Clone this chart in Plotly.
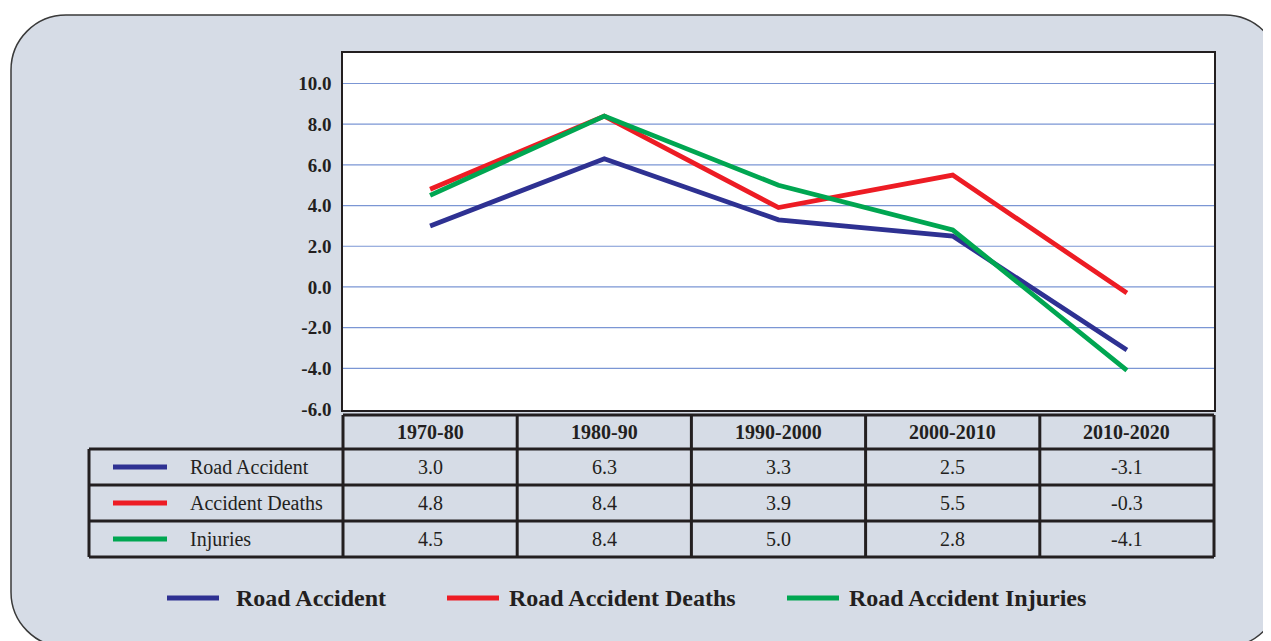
import plotly.graph_objects as go

# data
periods = ["1970-80", "1980-90", "1990-2000", "2000-2010", "2010-2020"]
road_accident = [3.0, 6.3, 3.3, 2.5, -3.1]
accident_deaths = [4.8, 8.4, 3.9, 5.5, -0.3]
injuries = [4.5, 8.4, 5.0, 2.8, -4.1]
table_names = ["Road Accident", "Accident Deaths", "Injuries"]
legend_names = ["Road Accident", "Road Accident Deaths", "Road Accident Injuries"]
y_ticks = [10, 8, 6, 4, 2, 0, -2, -4, -6]
grid_vals = [10, 8, 6, 4, 2, 0, -2, -4]

colors = ["#2e3192", "#ed1c24", "#00a651"]
series = [road_accident, accident_deaths, injuries]
text_color = "#231f20"
serif = "Liberation Serif"

# page body has an 8px margin, so the figure is shifted by that much
OFF = 8
W, H = 1271, 641
PW, PH = 871, 357
L, T = 343 - OFF, 53 - OFF
R, B = W - L - PW, H - T - PH


def px(x):
    return (x - 343) / PW


def py(y):
    return (410 - y) / PH


fig = go.Figure()
xs = list(range(len(periods)))
for vals, name, c in zip(series, table_names, colors):
    fig.add_trace(go.Scatter(x=xs, y=vals, mode="lines", name=name,
                             line=dict(color=c, width=4.8), showlegend=False))

shapes = []

# rounded background panel
l, t, r, b, rad = 11, 15, 1280, 647, 55
k = rad * 0.5523
path = (f"M {px(l + rad)},{py(t)} L {px(r - rad)},{py(t)} "
        f"C {px(r - rad + k)},{py(t)} {px(r)},{py(t + rad - k)} {px(r)},{py(t + rad)} "
        f"L {px(r)},{py(b - rad)} "
        f"C {px(r)},{py(b - rad + k)} {px(r - rad + k)},{py(b)} {px(r - rad)},{py(b)} "
        f"L {px(l + rad)},{py(b)} "
        f"C {px(l + rad - k)},{py(b)} {px(l)},{py(b - rad + k)} {px(l)},{py(b - rad)} "
        f"L {px(l)},{py(t + rad)} "
        f"C {px(l)},{py(t + rad - k)} {px(l + rad - k)},{py(t)} {px(l + rad)},{py(t)} Z")
shapes.append(dict(type="path", path=path, xref="paper", yref="paper",
                   fillcolor="#d6dce6", line=dict(color="#3a3a3a", width=1.5), layer="below"))
shapes.append(dict(type="rect", xref="paper", yref="paper", x0=0, x1=1, y0=0, y1=1,
                   fillcolor="white", line=dict(width=0), layer="below"))
for g in grid_vals:
    shapes.append(dict(type="line", xref="paper", yref="y", x0=0, x1=1, y0=g, y1=g,
                       line=dict(color="#7b96d4", width=1.2), layer="below"))

# table grid
tb = dict(color=text_color, width=3)
header_top, row_lines = 415, [449, 485, 521, 557]
first_col = px(89)
shapes.append(dict(type="line", xref="paper", yref="paper", x0=0, x1=1,
                   y0=py(header_top), y1=py(header_top), line=tb))
for yl in row_lines:
    shapes.append(dict(type="line", xref="paper", yref="paper", x0=first_col, x1=1,
                       y0=py(yl), y1=py(yl), line=tb))
shapes.append(dict(type="line", xref="paper", yref="paper", x0=first_col, x1=first_col,
                   y0=py(row_lines[0]), y1=py(row_lines[-1]), line=tb))
for i in range(len(periods) + 1):
    xc = i / len(periods)
    shapes.append(dict(type="line", xref="paper", yref="paper", x0=xc, x1=xc,
                       y0=py(header_top), y1=py(row_lines[-1]), line=tb))

annotations = []
hy = (header_top + row_lines[0]) / 2
for i, p in enumerate(periods):
    annotations.append(dict(x=i, y=py(hy), xref="x", yref="paper", text=f"<b>{p}</b>",
                            xanchor="center", yanchor="middle", showarrow=False,
                            font=dict(family=serif, size=20, color=text_color)))
for j, (name, vals, c) in enumerate(zip(table_names, series, colors)):
    yc = py((row_lines[j] + row_lines[j + 1]) / 2)
    shapes.append(dict(type="line", xref="paper", yref="paper", x0=px(113), x1=px(167),
                       y0=yc, y1=yc, line=dict(color=c, width=5)))
    annotations.append(dict(x=px(188), y=yc, xref="paper", yref="paper", text=name,
                            xanchor="left", yanchor="middle", showarrow=False,
                            font=dict(family=serif, size=20, color=text_color)))
    for i, v in enumerate(vals):
        annotations.append(dict(x=i, y=yc, xref="x", yref="paper", text=f"{v:.1f}",
                                xanchor="center", yanchor="middle", showarrow=False,
                                font=dict(family=serif, size=20, color=text_color)))

# bottom legend
leg_y = py(598)
leg_line_x = [167, 447, 787]
leg_text_x = [234, 507, 847]
for name, c, lx, tx in zip(legend_names, colors, leg_line_x, leg_text_x):
    shapes.append(dict(type="line", xref="paper", yref="paper", x0=px(lx), x1=px(lx + 52),
                       y0=leg_y, y1=leg_y, line=dict(color=c, width=5)))
    annotations.append(dict(x=px(tx), y=leg_y, xref="paper", yref="paper", text=f"<b>{name}</b>",
                            xanchor="left", yanchor="middle", showarrow=False,
                            font=dict(family=serif, size=24, color=text_color)))

fig.update_layout(
    width=W, height=H,
    margin=dict(l=L, r=R, t=T, b=B),
    paper_bgcolor="white", plot_bgcolor="white",
    shapes=shapes, annotations=annotations,
    xaxis=dict(range=[-0.5, 4.5], showticklabels=False, showgrid=False, zeroline=False,
               showline=True, mirror=True, linecolor=text_color, linewidth=1.5),
    yaxis=dict(range=[-6.05, 11.5], tickvals=y_ticks, ticktext=[f"{v:.1f}" for v in y_ticks],
               showgrid=False, zeroline=False, showline=True, mirror=True,
               linecolor=text_color, linewidth=1.5, ticks="", ticklabelstandoff=6,
               tickfont=dict(family=serif, size=19, color=text_color, weight="bold")),
)

fig.write_html("out.html")
